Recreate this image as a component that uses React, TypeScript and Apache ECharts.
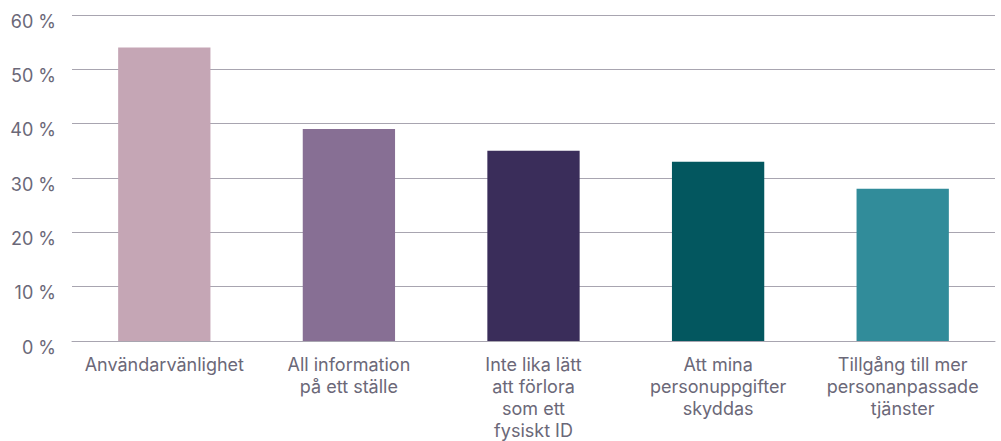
import React, { useEffect, useRef } from "react";
import * as echarts from "echarts";

const categories = [
  "Användarvänlighet",
  "All information\npå ett ställe",
  "Inte lika lätt\natt förlora\nsom ett\nfysiskt ID",
  "Att mina\npersonuppgifter\nskyddas",
  "Tillgång till mer\npersonanpassade\ntjänster",
];
const values = [54, 39, 35, 33, 28];
const barColors = ["#C5A6B5", "#876F94", "#3A2D5A", "#03575F", "#318C9A"];
const yTicks = [0, 10, 20, 30, 40, 50, 60];

export default function App() {
  const ref = useRef<HTMLDivElement>(null);
  useEffect(() => {
    if (!ref.current) return;
    const chart = echarts.init(ref.current, undefined, { renderer: "svg" });
    chart.setOption({
      animation: false,
      grid: { left: 72, right: 6, top: 15, bottom: 100, containLabel: false },
      xAxis: {
        type: "category",
        data: categories,
        axisLine: { show: true, lineStyle: { color: "#A8A5B0", width: 1 } },
        axisTick: { show: false },
        axisLabel: {
          interval: 0,
          color: "#6B6878",
          fontFamily: "Inter, 'Liberation Sans', sans-serif",
          fontSize: 18,
          lineHeight: 22,
          margin: 12,
        },
      },
      yAxis: {
        type: "value",
        min: yTicks[0],
        max: yTicks[yTicks.length - 1],
        interval: 10,
        axisLine: { show: false },
        axisTick: { show: false },
        splitLine: { lineStyle: { color: "#A8A5B0", width: 1 } },
        axisLabel: {
          color: "#6B6878",
          fontFamily: "Inter, 'Liberation Sans', sans-serif",
          fontSize: 18,
          margin: 16,
          verticalAlign: "top",
          lineHeight: 12,
          formatter: (v: number) => `${v} %`,
        },
      },
      series: [
        {
          type: "bar",
          barWidth: "50%",
          data: values.map((v, i) => ({ value: v, itemStyle: { color: barColors[i] } })),
        },
      ],
    });
    return () => chart.dispose();
  }, []);
  return <div ref={ref} style={{ width: 1001, height: 441, position: "absolute", left: 0, top: 0 }} />;
}
